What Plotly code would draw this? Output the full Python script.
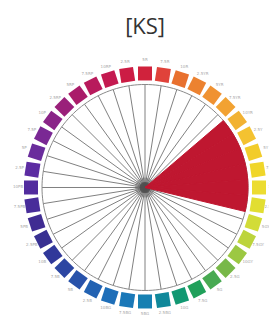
import plotly.graph_objects as go

# 40 Munsell-style hue labels, clockwise from top
hue_labels = ["5R", "7.5R", "10R", "2.5YR", "5YR", "7.5YR", "10YR", "2.5Y", "5Y", "7.5Y",
              "10Y", "2.5GY", "5GY", "7.5GY", "10GY", "2.5G", "5G", "7.5G", "10G", "2.5BG",
              "5BG", "7.5BG", "10BG", "2.5B", "5B", "7.5B", "10B", "2.5PB", "5PB", "7.5PB",
              "10PB", "2.5P", "5P", "7.5P", "10P", "2.5RP", "5RP", "7.5RP", "10RP", "2.5R"]
hue_colors = ["#d0223c", "#e0423a", "#e8702e", "#ec8230", "#f09232", "#f2a232", "#f2b232", "#f4c230",
              "#f2cc2a", "#f0d62a", "#ecdc30", "#e2de32", "#d2dc38", "#bcd43c", "#9cc842", "#78b848",
              "#48aa52", "#20a05a", "#129872", "#10889a", "#1680b2", "#1a78b8", "#1e6eb8", "#2262b2",
              "#2852aa", "#2c46a2", "#30389a", "#383092", "#402c92", "#482c9a", "#522c9e", "#5c2ca2",
              "#6a2c9c", "#7a2894", "#8a2488", "#9a207a", "#aa1c6a", "#b81a5c", "#c41a50", "#cc1c44"]
# selected segment values (1 = highlighted)
selected = [0, 0, 0, 0, 0, 0, 1, 1, 1, 1, 1, 1, 0, 0, 0, 0, 0, 0, 0, 0,
            0, 0, 0, 0, 0, 0, 0, 0, 0, 0, 0, 0, 0, 0, 0, 0, 0, 0, 0, 0]
title_text = "[KS]"

RING = 1.03    # inner circle radius
SQ = 1.14      # squares radius
LAB = 1.27     # labels radius

n = len(hue_labels)
step = 360 / n
thetas = [i * step for i in range(n)]

fig = go.Figure()

# spokes
sp_r, sp_t = [], []
for t in thetas:
    sp_r += [0, RING, None]
    sp_t += [t, t, None]
fig.add_trace(go.Scatterpolar(r=sp_r, theta=sp_t, mode="lines",
                              line=dict(color="#808080", width=1), hoverinfo="skip"))
# inner circle
circ_t = [i for i in range(0, 361, 2)]
fig.add_trace(go.Scatterpolar(r=[RING] * len(circ_t), theta=circ_t, mode="lines",
                              line=dict(color="#8a8a8a", width=1), hoverinfo="skip"))
# center hub
fig.add_trace(go.Scatterpolar(r=[0], theta=[0], mode="markers",
                              marker=dict(size=20, color="#555555", opacity=0.35), hoverinfo="skip"))
fig.add_trace(go.Scatterpolar(r=[0], theta=[0], mode="markers",
                              marker=dict(size=11, color="#444444", opacity=0.75), hoverinfo="skip"))
# highlighted wedge(s): filled sector for each selected segment
for i, v in enumerate(selected):
    if v:
        a0, a1 = thetas[i] - step / 2, thetas[i] + step / 2
        arc = [a0 + (a1 - a0) * j / 8 for j in range(9)]
        fig.add_trace(go.Scatterpolar(r=[0] + [RING * v] * len(arc) + [0],
                                      theta=[thetas[i]] + arc + [thetas[i]],
                                      mode="lines", fill="toself", fillcolor="#bf1730",
                                      line=dict(color="#bf1730", width=1), hoverinfo="skip"))
# color squares
fig.add_trace(go.Scatterpolar(r=[SQ] * n, theta=thetas, mode="markers",
                              marker=dict(symbol="square", size=14, color=hue_colors,
                                          angle=thetas, line=dict(width=0)),
                              hoverinfo="skip"))
# hue labels
fig.add_trace(go.Scatterpolar(r=[LAB] * n, theta=thetas, mode="text", text=hue_labels,
                              textfont=dict(size=4, color="#a8a8a8", family="DejaVu Sans"),
                              hoverinfo="skip"))

fig.update_layout(
    width=277, height=331,
    margin=dict(l=0, r=0, t=0, b=0),
    paper_bgcolor="white",
    showlegend=False,
    title=dict(text=title_text, x=0.495, xanchor="center", y=0.944, yanchor="middle",
               font=dict(size=22, color="#333333", family="Open Sans")),
    polar=dict(
        domain=dict(x=[0.0253, 0.9639], y=[0.065, 0.8505]),
        bgcolor="white",
        hole=0,
        radialaxis=dict(range=[0, 1.3], visible=False, showgrid=False),
        angularaxis=dict(rotation=90, direction="clockwise", visible=False,
                         showgrid=False, showline=False, showticklabels=False),
    ),
)

fig.write_html("out.html")
